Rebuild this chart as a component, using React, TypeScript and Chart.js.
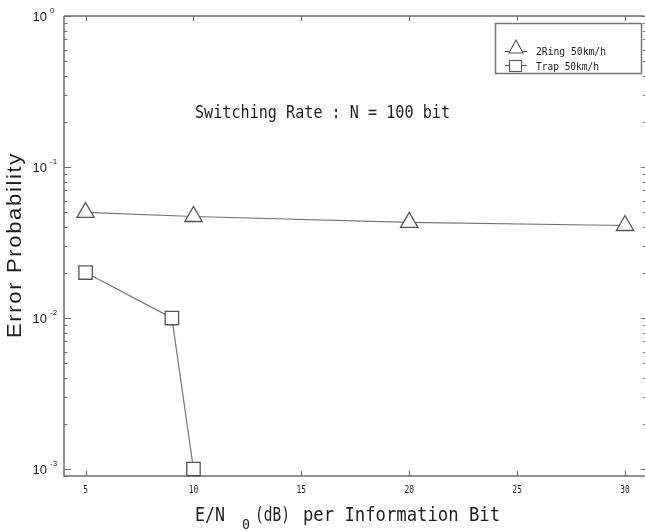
import React, { useEffect, useRef } from "react";
import { Chart, registerables } from "chart.js";
Chart.register(...registerables);

// ---- data ----
const ringX = [5, 10, 20, 30];
const ringY = [0.05, 0.047, 0.043, 0.041];
const trapX = [5, 9, 10];
const trapY = [0.02, 0.01, 0.001];
const xTicks = [5, 10, 15, 20, 25, 30];
const yDecades = [0, -1, -2, -3];
const legendLabels = ["2Ring 50km/h", "Trap 50km/h"];
const annotationText = "Switching Rate : N = 100 bit";
const xTitleParts = ["E/N", "0", "(dB)", "per Information Bit"];
const yTitle = "Error Probability";

const AXIS = "#6e6e6e";
const TEXT = "#1e1e1e";
const MONO = "'DejaVu Sans Mono', monospace";
const SANS = "'Liberation Sans', Arial, sans-serif";

function drawFit(ctx: CanvasRenderingContext2D, text: string, x: number, y: number, font: string, width: number) {
  ctx.save();
  ctx.font = font;
  ctx.textAlign = "left";
  const w = ctx.measureText(text).width;
  ctx.translate(x, y);
  ctx.scale(width / w, 1);
  ctx.fillText(text, 0, 0);
  ctx.restore();
}

function drawScaled(ctx: CanvasRenderingContext2D, text: string, x: number, y: number, font: string, sx: number, align: "left" | "center" | "right") {
  ctx.save();
  ctx.font = font;
  ctx.textAlign = "left";
  const w = ctx.measureText(text).width;
  ctx.translate(x, y);
  ctx.scale(sx, 1);
  const off = align === "left" ? 0 : align === "center" ? -w / 2 : -w;
  ctx.fillText(text, off, 0);
  ctx.restore();
}

const framePlugin = {
  id: "frame",
  beforeDatasetsDraw(chart: any) {
    const ctx: CanvasRenderingContext2D = chart.ctx;
    const { left, right, top, bottom } = chart.chartArea;
    const xs = chart.scales.x;
    const ys = chart.scales.y;
    ctx.save();
    ctx.strokeStyle = AXIS;
    ctx.lineWidth = 1.5;
    ctx.beginPath();
    ctx.moveTo(left, top);
    ctx.lineTo(right, top);
    ctx.moveTo(left, top);
    ctx.lineTo(left, bottom);
    ctx.lineTo(right, bottom);
    ctx.stroke();

    ctx.lineWidth = 1.2;
    ctx.beginPath();
    for (const v of xTicks) {
      const px = Math.round(xs.getPixelForValue(v)) + 0.5;
      ctx.moveTo(px, bottom);
      ctx.lineTo(px, bottom - 5);
      ctx.moveTo(px, top);
      ctx.lineTo(px, top + 5);
    }
    for (let d = -4; d <= 0; d++) {
      for (let m = 1; m <= 9; m++) {
        const v = m * Math.pow(10, d);
        if (v < ys.min || v > ys.max) continue;
        const py = Math.round(ys.getPixelForValue(v)) + 0.5;
        const len = m === 1 ? 7 : 3.5;
        ctx.moveTo(left, py);
        ctx.lineTo(left + len, py);
        ctx.moveTo(right + 1, py);
        ctx.lineTo(right + 1 - len * 0.6, py);
      }
    }
    ctx.stroke();
    ctx.restore();
  },
  afterDraw(chart: any) {
    const ctx: CanvasRenderingContext2D = chart.ctx;
    const { bottom } = chart.chartArea;
    const xs = chart.scales.x;
    const ys = chart.scales.y;
    ctx.save();
    ctx.fillStyle = TEXT;
    ctx.textBaseline = "alphabetic";

    for (const v of xTicks) {
      const px = xs.getPixelForValue(v);
      drawScaled(ctx, String(v), px, bottom + 17, `11px ${MONO}`, 0.72, "center");
    }

    for (const d of yDecades) {
      const py = ys.getPixelForValue(Math.pow(10, d));
      ctx.textBaseline = "middle";
      ctx.font = `13px ${SANS}`;
      ctx.textAlign = "right";
      ctx.fillText("10", 47, py + 1.5);
      ctx.font = `8px ${SANS}`;
      ctx.textAlign = "left";
      ctx.fillText(d === 0 ? "0" : String(d), 50, py - 5);
    }
    ctx.textBaseline = "alphabetic";

    drawFit(ctx, xTitleParts[0], 195, 521, `20px ${MONO}`, 30);
    drawFit(ctx, xTitleParts[1], 242, 529, `14px ${MONO}`, 8);
    drawFit(ctx, xTitleParts[2], 255, 521, `20px ${MONO}`, 35);
    drawFit(ctx, xTitleParts[3], 303, 521, `20px ${MONO}`, 197);

    ctx.save();
    ctx.translate(15, 245);
    ctx.rotate(-Math.PI / 2);
    ctx.font = `20px ${SANS}`;
    (ctx as any).letterSpacing = "1.5px";
    ctx.textBaseline = "middle";
    const tw = ctx.measureText(yTitle).width;
    ctx.scale(186 / tw, 1);
    ctx.textAlign = "left";
    ctx.fillText(yTitle, -tw / 2, 0);
    ctx.restore();

    drawFit(ctx, annotationText, 195, 118, `18px ${MONO}`, 255);

    ctx.strokeStyle = "#777";
    ctx.lineWidth = 1.5;
    ctx.strokeRect(495.5, 23.5, 146, 50);

    ctx.strokeStyle = "#555";
    ctx.lineWidth = 1.1;
    ctx.beginPath();
    ctx.moveTo(505, 51.5);
    ctx.lineTo(527, 51.5);
    ctx.stroke();
    ctx.beginPath();
    ctx.moveTo(516, 40);
    ctx.lineTo(523, 53);
    ctx.lineTo(509, 53);
    ctx.closePath();
    ctx.fillStyle = "#fff";
    ctx.fill();
    ctx.stroke();
    ctx.beginPath();
    ctx.moveTo(505, 65.5);
    ctx.lineTo(527, 65.5);
    ctx.stroke();
    ctx.fillRect(509.5, 60.5, 12, 11);
    ctx.strokeRect(509.5, 60.5, 12, 11);

    ctx.fillStyle = TEXT;
    drawFit(ctx, legendLabels[0], 536, 55, `11px ${MONO}`, 70);
    drawFit(ctx, legendLabels[1], 536, 70, `11px ${MONO}`, 63);
    ctx.restore();
  },
};

export default function App() {
  const ref = useRef<HTMLCanvasElement | null>(null);
  useEffect(() => {
    if (!ref.current) return;
    const chart = new Chart(ref.current, {
      type: "line",
      data: {
        datasets: [
          {
            label: legendLabels[0],
            data: ringX.map((x, i) => ({ x, y: ringY[i] })),
            borderColor: "#757575",
            borderWidth: 1.2,
            pointStyle: "triangle",
            pointRadius: 10,
            pointBorderColor: "#555",
            pointBorderWidth: 1.3,
            pointBackgroundColor: "#fff",
            tension: 0,
            clip: false as any,
          },
          {
            label: legendLabels[1],
            data: trapX.map((x, i) => ({ x, y: trapY[i] })),
            borderColor: "#757575",
            borderWidth: 1.2,
            pointStyle: "rect",
            pointRadius: 9.5,
            pointBorderColor: "#555",
            pointBorderWidth: 1.3,
            pointBackgroundColor: "#fff",
            tension: 0,
            clip: false as any,
          },
        ],
      },
      options: {
        animation: false,
        responsive: false,
        maintainAspectRatio: false,
        layout: { autoPadding: false, padding: { left: 64, top: 16, right: 1, bottom: 55 } } as any,
        plugins: { legend: { display: false }, tooltip: { enabled: false } },
        scales: {
          x: { type: "linear", min: 4, max: 30.88, display: false },
          y: { type: "logarithmic", min: 0.000899, max: 1, display: false },
        },
      },
      plugins: [framePlugin],
    });
    return () => chart.destroy();
  }, []);
  return (
    <div style={{ position: "fixed", left: 0, top: 0, width: 645, height: 531, background: "#fff" }}>
      <canvas ref={ref} width={645} height={531} style={{ width: 645, height: 531, display: "block" }} />
    </div>
  );
}
